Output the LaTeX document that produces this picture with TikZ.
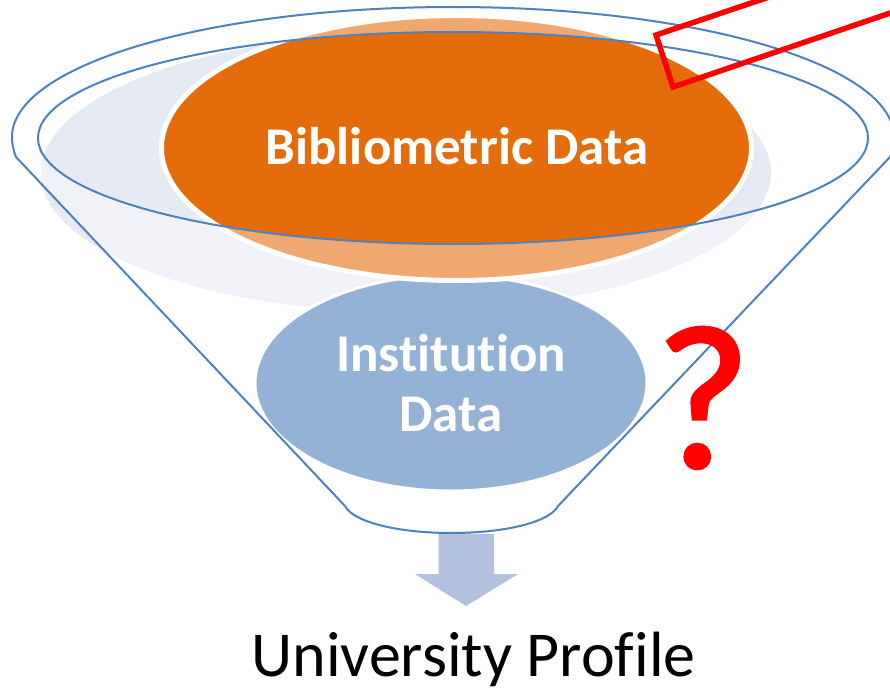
\documentclass[tikz,border=0pt]{standalone}
\usepackage{fontspec}
\setmainfont{Carlito}[Ligatures=CommonOff]
\newfontfamily\qfont{Carlito}[FakeBold=1.6]
\usetikzlibrary{shapes.geometric}
\definecolor{funnelblue}{HTML}{4F81BD}
\definecolor{paleblue}{HTML}{E6EAF3}
\definecolor{orangefill}{HTML}{E46C0A}
\definecolor{instblue}{HTML}{487CBA}
\definecolor{arrowblue}{HTML}{B2C1DD}
\tikzset{
  blob/.style={ellipse,inner sep=0pt,outer sep=0pt},
  bigword/.style={text=white,font=\bfseries\fontsize{53}{60}\selectfont,align=center,inner sep=0pt},
  funnelline/.style={draw=funnelblue,line width=2pt,line join=round},
}
\def\funnelpath{(345,506) -- (16,157) .. controls (13.5,151) and (12,144) .. (12,137)
  .. controls (12,65.2) and (208.4,7) .. (453,7)
  .. controls (697.6,7) and (894,65.2) .. (894,137)
  .. controls (894,144) and (892.5,151) .. (890,157)
  -- (558,506) .. controls (550,522) and (505,533) .. (451.5,533)
  .. controls (398,533) and (353,522) .. (345,506) -- cycle}
\begin{document}
\begin{tikzpicture}[x=1pt,y=-1pt]
\useasboundingbox (0,0) rectangle (890,690);
\clip (0,0) rectangle (890,690);
\fill[white] (0,0) rectangle (890,690);
\node[blob,fill=paleblue,minimum width=730pt,minimum height=278pt] (pale) at (406,173) {};
\node[blob,fill=instblue,draw=white,line width=3pt,minimum width=392pt,minimum height=216pt] (inst) at (451,383) {};
\node[blob,fill=orangefill,draw=white,line width=5pt,minimum width=590pt,minimum height=265pt] (biblio) at (456.5,148) {};
\fill[white,opacity=.42,even odd rule] \funnelpath (453,138) ellipse [x radius=415,y radius=106];
\draw[funnelline] \funnelpath;
\draw[funnelline] (453,138) ellipse [x radius=415,y radius=106];
\node[bigword] (bibliotext) at (457,146) {Bibliometric Data};
\node[bigword] (insttext) at (451,383) {Institution\\Data};
\draw[red,line width=5.5pt,miter limit=10] (790,-10) coordinate (rtop) -- (656,35) -- (673,87) -- (905,8);
\node[text=red,font=\qfont\fontsize{205}{205}\selectfont,inner sep=0pt] (qmark) at (703,398) {?};
\fill[arrowblue] (438.5,534) -- (494,534) -- (494,574) -- (518,574) -- (466,606) -- (415,574) -- (438.5,574) -- cycle;
\node[text=black,font=\fontsize{64}{70}\selectfont,inner sep=0pt,anchor=base] (profile) at (473.5,676.5) {University Profile};
\end{tikzpicture}
\end{document}
